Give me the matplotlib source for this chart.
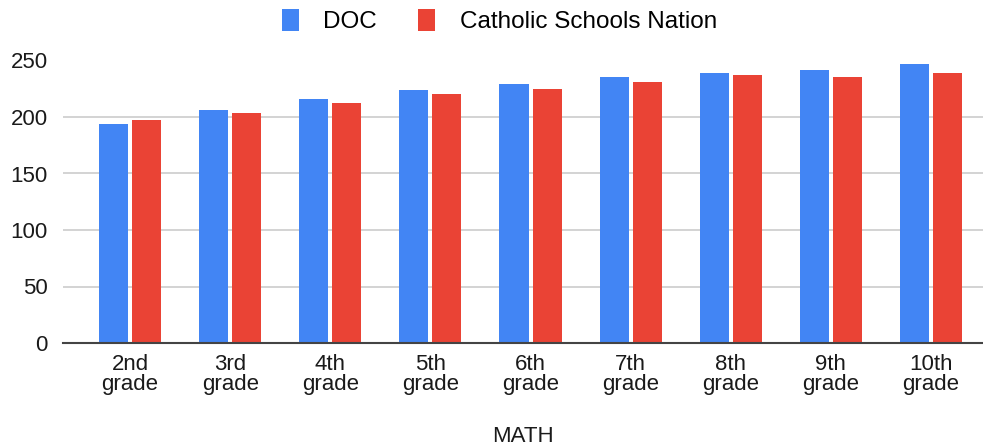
import matplotlib
matplotlib.use('Agg')
import matplotlib.pyplot as plt
import numpy as np

# Scores
grades = ['2nd\ngrade', '3rd\ngrade', '4th\ngrade', '5th\ngrade', '6th\ngrade',
          '7th\ngrade', '8th\ngrade', '9th\ngrade', '10th\ngrade']
doc = [194, 206.5, 215.5, 223.5, 229.5, 235.5, 238.5, 241.5, 246.5]
catholic_nation = [197, 203.5, 212.5, 220.5, 225, 231, 237.5, 235.5, 238.5]
y_ticks = [0, 50, 100, 150, 200, 250]

plt.rcParams['font.family'] = ['Liberation Sans', 'DejaVu Sans']

fig = plt.figure(figsize=(9.83, 4.45), dpi=100)
ax = fig.add_axes([63 / 983, 102 / 445, 920 / 983, 282.5 / 445])

x = np.arange(len(grades))
w = 0.29
ax.bar(x - 0.165, doc, w, color='#4285F4', label='DOC', zorder=3)
ax.bar(x + 0.165, catholic_nation, w, color='#EA4335',
       label='Catholic Schools Nation', zorder=3)

ax.set_xlim(-0.67, 8.52)
ax.set_ylim(0, 250)
ax.set_yticks(y_ticks)
ax.set_xticks(x)
ax.set_xticklabels(grades, linespacing=0.95)
ax.tick_params(axis='both', length=0, labelsize=16, colors='#1a1a1a')
ax.tick_params(axis='y', pad=11)
ax.tick_params(axis='x', pad=8)

ax.grid(axis='y', color='#cccccc', linewidth=1.2, zorder=0)
for s in ['top', 'right', 'left']:
    ax.spines[s].set_visible(False)
ax.spines['bottom'].set_color('#444444')
ax.spines['bottom'].set_linewidth(1.5)
ax.spines['bottom'].set_zorder(4)

ax.set_xlabel('MATH', fontsize=16, color='#1a1a1a', labelpad=22)

fig.legend(loc='center', bbox_to_anchor=(0.508, 0.952), ncol=2, frameon=False,
           fontsize=17.5, handlelength=0.7, handleheight=1.0, handletextpad=1.0,
           columnspacing=1.7)

fig.savefig('out.png', dpi=100)
